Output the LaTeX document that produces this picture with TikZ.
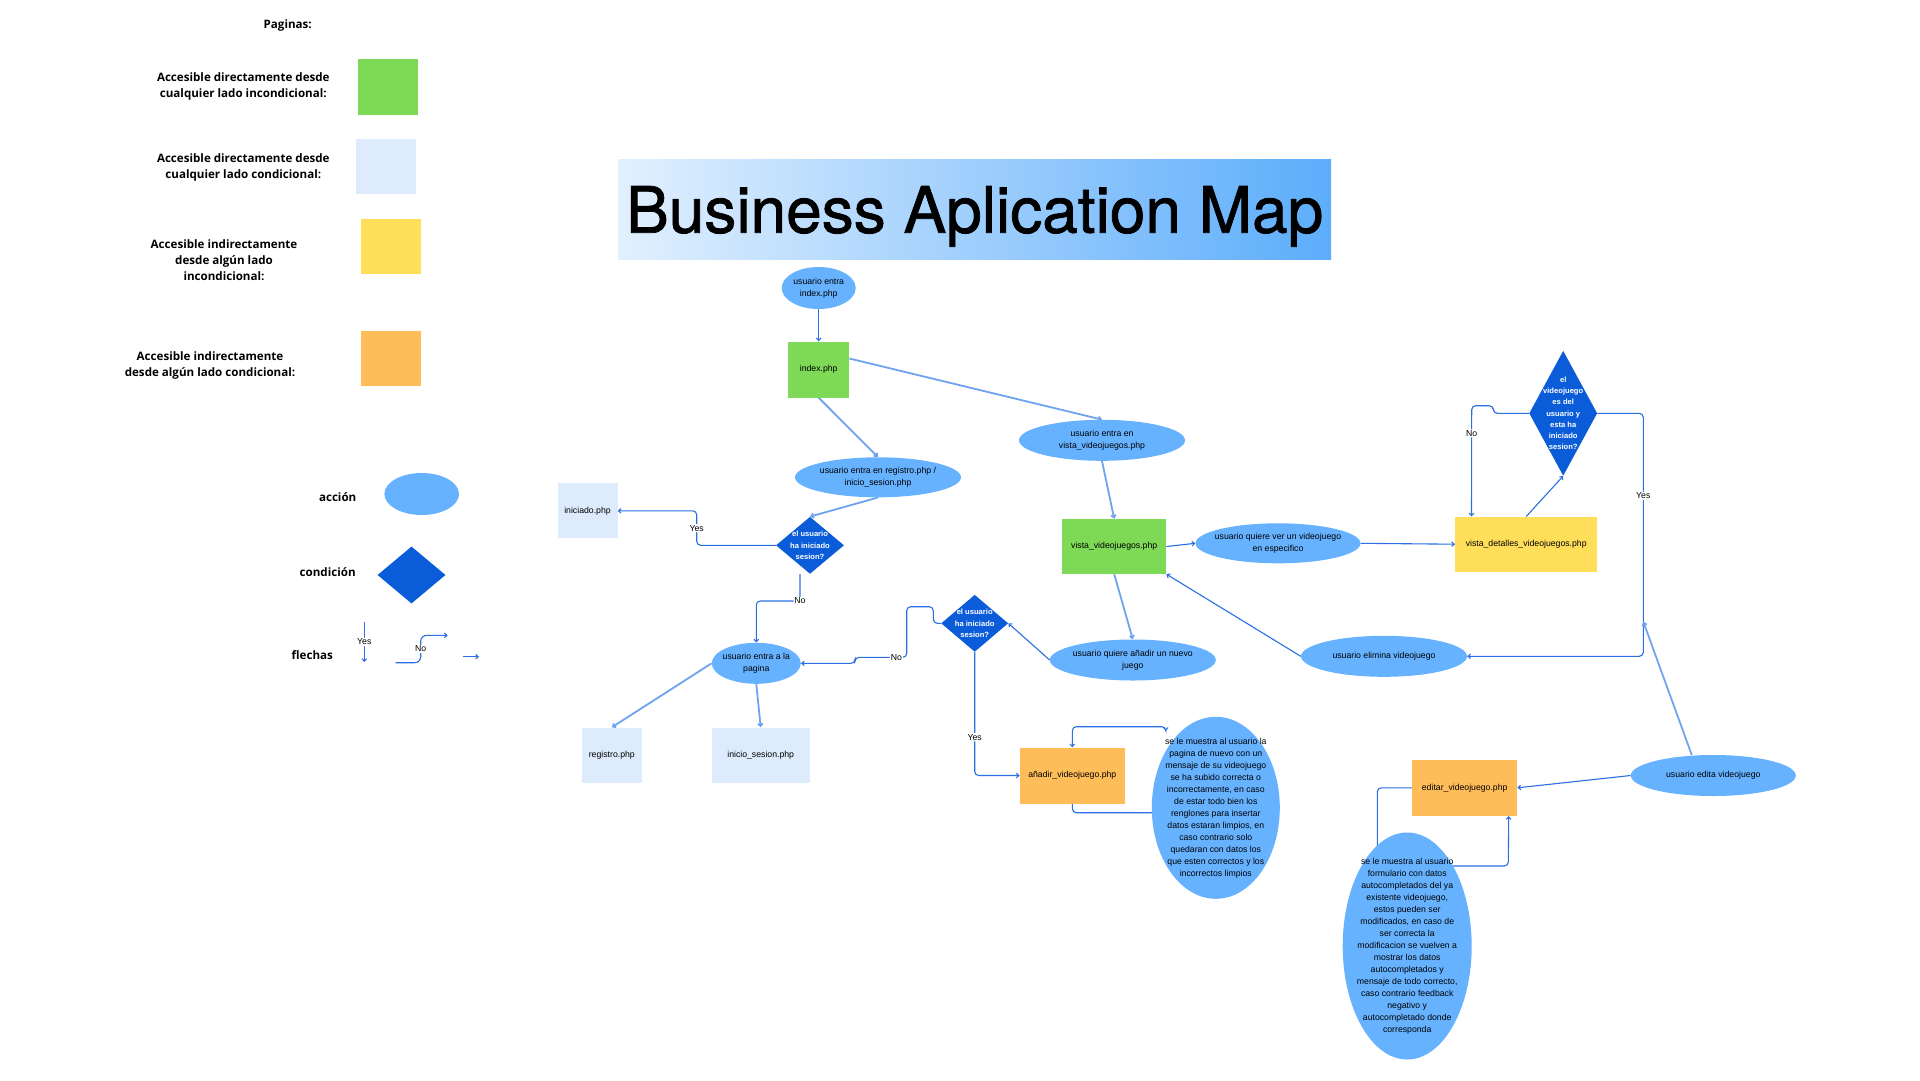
\documentclass[tikz,border=0pt]{standalone}
\usepackage{fontspec}
\setmainfont{Liberation Sans}
\newfontfamily\openfam{Open Sans}
\newfontfamily\herosfam[FakeBold=1.2]{TeX Gyre Heros}
\usetikzlibrary{shapes.geometric,arrows.meta,backgrounds,calc}
\definecolor{pgreen}{HTML}{7ED957}
\definecolor{plight}{HTML}{DDEBFD}
\definecolor{pyellow}{HTML}{FFDE59}
\definecolor{porange}{HTML}{FFBD59}
\definecolor{actblue}{HTML}{66B2FF}
\definecolor{condblue}{HTML}{0B5CD8}
\definecolor{linedark}{HTML}{2A6FE3}
\definecolor{linelight}{HTML}{6FA3F0}
\definecolor{titleL}{HTML}{E2F0FE}
\definecolor{titleR}{HTML}{5CADFB}
\newcommand\nfont{\fontsize{8.7}{12}\selectfont}
\newcommand\dfont{\fontsize{7.6}{11.3}\selectfont\bfseries}
\newcommand\lfont{\openfam\bfseries\fontsize{11.6}{16}\selectfont}
\begin{document}
\begin{tikzpicture}[x=1pt,y=-1pt,
  pagebox/.style={rectangle, inner sep=0pt, font=\nfont, align=center},
  act/.style={ellipse, fill=actblue, inner sep=0pt},
  acttext/.style={align=center, font=\nfont, inner sep=0pt},
  cond/.style={diamond, fill=condblue, inner sep=0pt},
  condtext/.style={align=center, font=\dfont, text=white, inner sep=0pt},
  leg/.style={align=center, font=\lfont, inner sep=0pt},
  dk/.style={draw=linedark, line width=1.1pt, rounded corners=4pt, -{Straight Barb[length=2.5pt,width=4.5pt]}},
  lt/.style={draw=linelight, line width=1.8pt, -{Straight Barb[length=2.5pt,width=4.5pt]}},
  yn/.style={fill=white, font=\nfont, inner sep=1pt},
]
\useasboundingbox (0,0) rectangle (1920,1080);

% ---------- legend ----------
\node[leg] (lpag) at (287.7,25) {Paginas:};
\node[leg] (l1) at (243.3,86) {Accesible directamente desde\\cualquier lado incondicional:};
\node[pagebox, fill=pgreen, minimum width=60pt, minimum height=56pt] (sq1) at (387.7,86.5) {};
\node[leg] (l2) at (243.3,167) {Accesible directamente desde\\cualquier lado condicional:};
\node[pagebox, fill=plight, minimum width=60pt, minimum height=55pt] (sq2) at (385.9,166.7) {};
\node[leg] (l3) at (224,260) {Accesible indirectamente\\desde algún lado\\incondicional:};
\node[pagebox, fill=pyellow, minimum width=60pt, minimum height=55pt] (sq3) at (390.9,246.7) {};
\node[leg] (l4) at (210,365) {Accesible indirectamente\\desde algún lado condicional:};
\node[pagebox, fill=porange, minimum width=60pt, minimum height=55pt] (sq4) at (390.9,358.7) {};
\node[leg] (lacc) at (337.7,497.3) {acción};
\node[act, minimum width=74.6pt, minimum height=42pt] (lell) at (421.7,494) {};
\node[leg] (lcon) at (327.7,572.3) {condición};
\node[cond, minimum width=68pt, minimum height=57pt] (ldia) at (411.5,575) {};
\node[leg] (lfle) at (312.3,655) {flechas};
\coordinate (ly1) at (364.3,622);
\coordinate (ly2) at (364.3,662);
\coordinate (ln1) at (395.7,662.7);
\coordinate (ln2) at (447.7,635.3);
\coordinate (lr1) at (463.3,656.7);
\coordinate (lr2) at (479,656.7);

% ---------- title ----------
\node[rectangle, inner sep=0pt, minimum width=712.6pt, minimum height=100.4pt,
      left color=titleL, right color=titleR, text depth=0pt,
      font=\herosfam\fontsize{64}{70}\selectfont] (title) at (974.7,209.4) {Business Aplication Map};

% ---------- main nodes ----------
\node[act, minimum width=74pt, minimum height=42pt, label={[acttext]center:{usuario entra\\index.php}}] (eidx) at (818.7,288) {};
\node[pagebox, fill=pgreen, minimum width=61pt, minimum height=56pt] (pindex) at (818.7,369.5) {index.php};
\node[act, minimum width=166pt, minimum height=40pt, label={[acttext]center:{usuario entra en registro.php /\\inicio\_sesion.php}}] (ereg) at (878,477.3) {};
\node[cond, minimum width=68pt, minimum height=57pt, label={[condtext]center:{el usuario\\ha iniciado\\sesion?}}] (d1) at (810,545.3) {};
\node[pagebox, fill=plight, minimum width=60pt, minimum height=55pt] (pinic) at (587.5,510.8) {iniciado.php};
\node[act, minimum width=89pt, minimum height=41pt, label={[acttext]center:{usuario entra a la\\pagina}}] (epag) at (756.3,663.3) {};
\node[pagebox, fill=plight, minimum width=60pt, minimum height=55pt] (preg) at (611.8,755) {registro.php};
\node[pagebox, fill=plight, minimum width=98pt, minimum height=55pt] (pini) at (760.7,755) {inicio\_sesion.php};
\node[act, minimum width=166pt, minimum height=41pt, label={[acttext]center:{usuario entra en\\vista\_videojuegos.php}}] (evista) at (1102,440.3) {};
\node[pagebox, fill=pgreen, minimum width=104pt, minimum height=55pt] (pvista) at (1114.2,546.5) {vista\_videojuegos.php};
\node[act, minimum width=165pt, minimum height=40pt, label={[acttext]center:{usuario quiere ver un videojuego\\en especifico}}] (ever) at (1278,543.3) {};
\node[act, minimum width=166pt, minimum height=41pt, label={[acttext]center:{usuario quiere añadir un nuevo\\juego}}] (eadd) at (1132.8,660) {};
\node[cond, minimum width=67pt, minimum height=57pt, label={[condtext]center:{el usuario\\ha iniciado\\sesion?}}] (d2) at (974.7,623.3) {};
\node[act, minimum width=166pt, minimum height=41pt, label={[acttext]center:{usuario elimina videojuego}}] (edel) at (1384,656.3) {};
\node[pagebox, fill=pyellow, minimum width=142pt, minimum height=55pt] (pdet) at (1526.2,544.2) {vista\_detalles\_videojuegos.php};
\node[cond, minimum width=68pt, minimum height=125pt, label={[condtext]center:{el\\videojuego\\es del\\usuario y\\esta ha\\iniciado\\sesion?}}] (d3) at (1563.2,413.3) {};
\node[pagebox, fill=porange, minimum width=105pt, minimum height=56pt] (pann) at (1072.3,775.5) {añadir\_videojuego.php};
\node[act, minimum width=128pt, minimum height=182pt, label={[acttext]center:{se le muestra al usuario la\\pagina de nuevo con un\\mensaje de su videojuego\\se ha subido correcta o\\incorrectamente, en caso\\de estar todo bien los\\renglones para insertar\\datos estaran limpios, en\\caso contrario solo\\quedaran con datos los\\que esten correctos y los\\incorrectos limpios}}] (ebig1) at (1215.8,807.8) {};
\node[pagebox, fill=porange, minimum width=105pt, minimum height=56pt] (pedit) at (1464.7,787.8) {editar\_videojuego.php};
\node[act, minimum width=165pt, minimum height=41pt, label={[acttext]center:{usuario edita videojuego}}] (eedit) at (1713.3,775.5) {};
\node[act, minimum width=129pt, minimum height=227pt, label={[acttext]center:{se le muestra al usuario\\formulario con datos\\autocompletados del ya\\existente videojuego,\\estos pueden ser\\modificados, en caso de\\ser correcta la\\modificacion se vuelven a\\mostrar los datos\\autocompletados y\\mensaje de todo correcto,\\caso contrario feedback\\negativo y\\autocompletado donde\\corresponda}}] (ebig2) at (1407.2,946) {};
\coordinate (yj) at (1643.3,621.7);

% ---------- connectors ----------
\begin{pgfonlayer}{background}
\fill[white] (0,0) rectangle (1920,1080);
% legend arrows
\draw[dk] (ly1) -- node[yn]{Yes} (ly2);
\draw[dk, rounded corners=6pt] (ln1) -- (420.7,662.7) -- node[yn]{No} (420.7,635.3) -- (ln2);
\draw[dk] (lr1) -- (lr2);
% main
\draw[dk] (eidx.south) -- (pindex.north);
\draw[lt] ([yshift=11pt]pindex.east) -- (evista.north);
\draw[lt] (pindex.south) -- (ereg.north);
\draw[lt] (ereg.south) -- (d1.north);
\draw[dk] (d1.west) -- (696.7,545.3) -- node[yn]{Yes} (696.7,510.8) -- (pinic.east);
\draw[dk] ([xshift=-10pt]d1.south) -- (800,601) node[yn]{No} -- (756.3,601) -- (epag.north);
\draw[lt] (epag.west) -- (preg.north);
\draw[lt] (epag.south) -- (pini.north);
\draw[dk] (d2.west) -- (933.3,623.3) -- (933.3,606.7) -- (906.7,606.7) -- (906.7,657.3) -- node[yn,pos=0.2]{No} (855,657.3) -- (855,663.3) -- (epag.east);
\draw[dk] (d2.south) -- node[yn,pos=0.69]{Yes} (974.7,775.5) -- (pann.west);
\draw[lt] (evista.south) -- (pvista.north);
\draw[dk] (pvista.east) -- (ever.west);
\draw[lt] (pvista.south) -- (eadd.north);
\draw[dk] (eadd.west) -- (d2.east);
\draw[dk] (edel.west) -- (pvista.south east);
\draw[dk] (ever.east) -- (pdet.west);
\draw[dk] (pdet.north) -- (d3.south);
\draw[dk] (d3.west) -- (1493.3,413.3) -- (1493.3,405.7) -- (1471.7,405.7) -- node[yn,pos=0.25]{No} ($(pdet.north west)+(16.5,0)$);
\draw[dk] (d3.east) -- (1643.3,413.3) -- node[yn,pos=0.34]{Yes} (1643.3,656.3) -- (edel.east);
\draw[lt] ([xshift=-21.6pt]eedit.north) -- (yj);
\draw[dk] (eedit.west) -- (pedit.east);
\draw[dk, -] (pedit.west) -- (1377.3,787.8) -- ($(ebig2)+(-29.9,-95)$);
\draw[dk] ($(ebig2)+(40,-80)$) -- (1508.3,866) -- ([xshift=-8.7pt]pedit.south east);
\draw[dk, -] (pann.south) -- (1072.3,812.7) -- ($(ebig1)+(-60,4.9)$);
\draw[dk, {Straight Barb[length=2.5pt,width=4.5pt]}-{Straight Barb[length=2.5pt,width=4.5pt]}] ($(ebig1)+(-50,-77)$) -- (1165.8,726.7) -- (1072.3,726.7) -- (pann.north);
\end{pgfonlayer}
\end{tikzpicture}
\end{document}
